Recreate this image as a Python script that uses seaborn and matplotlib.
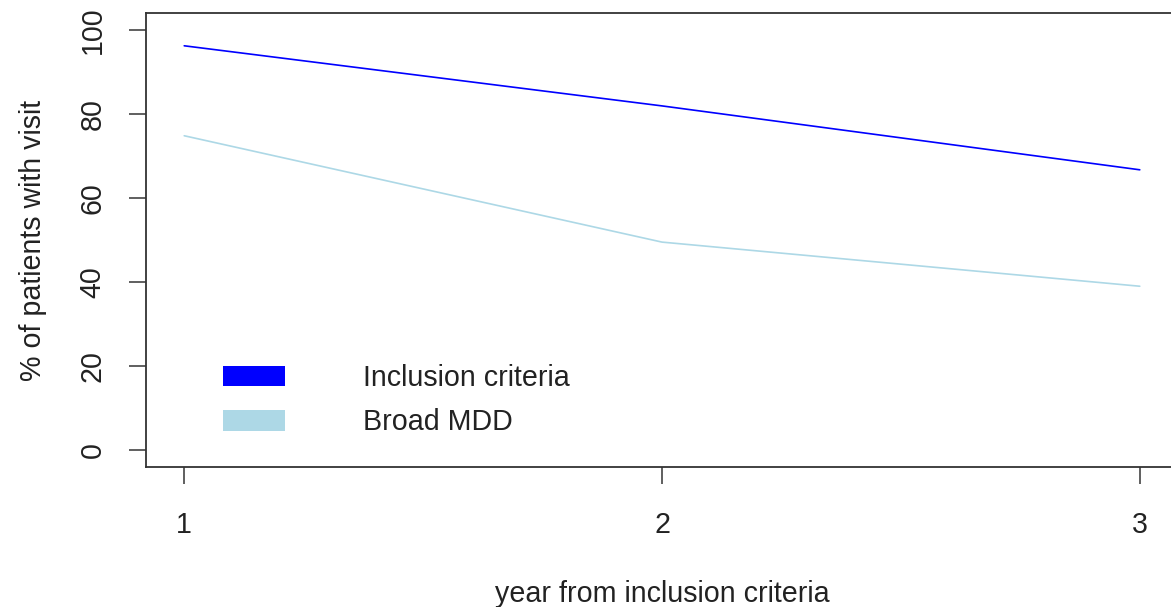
import matplotlib
matplotlib.use("Agg")
import matplotlib.pyplot as plt
import seaborn as sns
import pandas as pd
from matplotlib.patches import Patch

# data
years = [1, 2, 3]
inclusion_pct = [96.2, 81.9, 66.7]
broad_mdd_pct = [74.8, 49.5, 39.0]
series_names = ["Inclusion criteria", "Broad MDD"]
series_colors = ["#0000FF", "#ADD8E6"]
y_ticks = [0, 20, 40, 60, 80, 100]

df = pd.DataFrame({
    "year": years * 2,
    "pct": inclusion_pct + broad_mdd_pct,
    "group": [series_names[0]] * 3 + [series_names[1]] * 3,
})

sns.set_style("white")
plt.rcParams["font.family"] = ["Liberation Sans", "DejaVu Sans"]

FS = 20.6
W, H = 1171, 607
fig = plt.figure(figsize=(W / 100, H / 100), dpi=100)
ax = fig.add_axes([146 / W, 1 - 467 / H, 1032 / W, 454 / H])

sns.lineplot(data=df, x="year", y="pct", hue="group", hue_order=series_names,
             palette=series_colors, linewidth=1.2, legend=False, ax=ax)

ax.set_xlim(0.92, 3.08)
ax.set_ylim(-4, 104)
ax.set_xticks(years)
ax.set_yticks(y_ticks)
ax.tick_params(axis="both", which="major", bottom=True, left=True,
               direction="out", length=12, width=1.2,
               color="#444444", labelsize=FS, labelcolor="#222222")
ax.tick_params(axis="x", pad=20)
ax.tick_params(axis="y", pad=16.5)
for lbl in ax.get_yticklabels():
    lbl.set_rotation(90)
    lbl.set_va("center")

for side in ["left", "bottom", "top", "right"]:
    ax.spines[side].set_visible(True)
    ax.spines[side].set_color("#333333")
    ax.spines[side].set_linewidth(1.3)

ax.set_xlabel("year from inclusion criteria", fontsize=FS, color="#222222", labelpad=29.5)
ax.set_ylabel("% of patients with visit", fontsize=FS, color="#222222", labelpad=22.5)

handles = [Patch(facecolor=c, edgecolor="none") for c in series_colors]
ax.legend(handles, series_names, loc="upper left",
          bbox_to_anchor=(223 / W, 1 - 364 / H), bbox_transform=fig.transFigure,
          frameon=False, fontsize=FS, handlelength=2.17, handleheight=0.73,
          handletextpad=2.73, labelspacing=0.57, borderpad=0, borderaxespad=0,
          labelcolor="#222222")

ax.set_facecolor("white")
fig.patch.set_facecolor("white")
fig.savefig("out.png", dpi=100)
